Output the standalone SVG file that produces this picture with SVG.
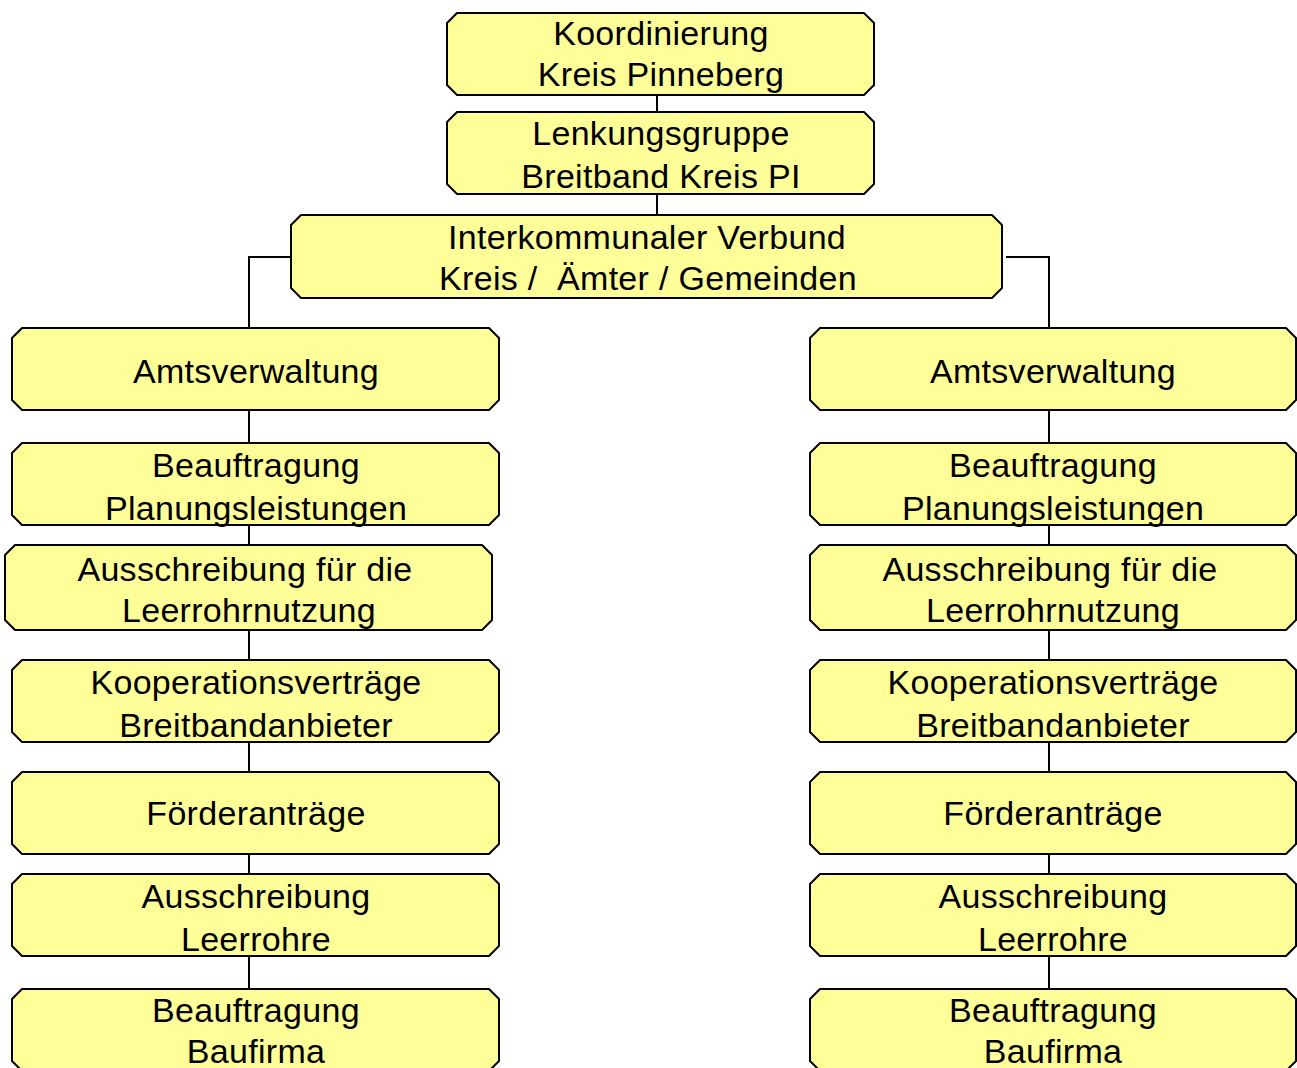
<svg xmlns="http://www.w3.org/2000/svg" width="1297" height="1068" viewBox="0 0 1297 1068">
<style>
.box{fill:#FFFF99;stroke:#000;stroke-width:2;stroke-linejoin:round}
.t{font-family:"Liberation Sans",Arial,sans-serif;font-size:34px;fill:#000;text-anchor:middle;letter-spacing:0.3px}
.c{fill:none;stroke:#000;stroke-width:2}
</style>
<rect width="1297" height="1068" fill="#fff"/>
<g id="connectors">
<path class="c" d="M657,95V112M657,194V215"/>
<path class="c" d="M291,257H249V328M249,410V443M249,525V545M249,630V660M249,742V772M249,854V874M249,956V989"/>
<path class="c" d="M1006,257H1049V328M1049,410V443M1049,525V545M1049,630V660M1049,742V772M1049,854V874M1049,956V989"/>
</g>
<g id="n1"><path class="box" d="M457,13H864L874,23V85L864,95H457L447,85V23Z"/><text class="t" x="661" y="45">Koordinierung</text><text class="t" x="661" y="86">Kreis Pinneberg</text></g>
<g id="n2"><path class="box" d="M457,112H864L874,122V184L864,194H457L447,184V122Z"/><text class="t" x="661" y="145">Lenkungsgruppe</text><text class="t" x="661" y="188">Breitband Kreis PI</text></g>
<g id="n3"><path class="box" d="M301,215H992L1002,225V288L992,298H301L291,288V225Z"/><text class="t" x="647" y="249">Interkommunaler Verbund</text><text class="t" x="648" y="290" xml:space="preserve" style="white-space:pre">Kreis /  Ämter / Gemeinden</text></g>

<g id="l1"><path class="box" d="M22,328H489L499,338V400L489,410H22L12,400V338Z"/><text class="t" x="256" y="383">Amtsverwaltung</text></g>
<g id="l2"><path class="box" d="M22,443H489L499,453V515L489,525H22L12,515V453Z"/><text class="t" x="256" y="477">Beauftragung</text><text class="t" x="256" y="520">Planungsleistungen</text></g>
<g id="l3"><path class="box" d="M15,545H482L492,555V620L482,630H15L5,620V555Z"/><text class="t" x="245" y="581">Ausschreibung für die</text><text class="t" x="249" y="622">Leerrohrnutzung</text></g>
<g id="l4"><path class="box" d="M22,660H489L499,670V732L489,742H22L12,732V670Z"/><text class="t" x="256" y="694">Kooperationsverträge</text><text class="t" x="256" y="737">Breitbandanbieter</text></g>
<g id="l5"><path class="box" d="M22,772H489L499,782V844L489,854H22L12,844V782Z"/><text class="t" x="256" y="825">Förderanträge</text></g>
<g id="l6"><path class="box" d="M22,874H489L499,884V946L489,956H22L12,946V884Z"/><text class="t" x="256" y="908">Ausschreibung</text><text class="t" x="256" y="951">Leerrohre</text></g>
<g id="l7"><path class="box" d="M22,989H489L499,999V1061L489,1071H22L12,1061V999Z"/><text class="t" x="256" y="1022">Beauftragung</text><text class="t" x="256" y="1063">Baufirma</text></g>

<g id="r1"><path class="box" d="M820,328H1286L1296,338V400L1286,410H820L810,400V338Z"/><text class="t" x="1053" y="383">Amtsverwaltung</text></g>
<g id="r2"><path class="box" d="M820,443H1286L1296,453V515L1286,525H820L810,515V453Z"/><text class="t" x="1053" y="477">Beauftragung</text><text class="t" x="1053" y="520">Planungsleistungen</text></g>
<g id="r3"><path class="box" d="M820,545H1286L1296,555V620L1286,630H820L810,620V555Z"/><text class="t" x="1050" y="581">Ausschreibung für die</text><text class="t" x="1053" y="622">Leerrohrnutzung</text></g>
<g id="r4"><path class="box" d="M820,660H1286L1296,670V732L1286,742H820L810,732V670Z"/><text class="t" x="1053" y="694">Kooperationsverträge</text><text class="t" x="1053" y="737">Breitbandanbieter</text></g>
<g id="r5"><path class="box" d="M820,772H1286L1296,782V844L1286,854H820L810,844V782Z"/><text class="t" x="1053" y="825">Förderanträge</text></g>
<g id="r6"><path class="box" d="M820,874H1286L1296,884V946L1286,956H820L810,946V884Z"/><text class="t" x="1053" y="908">Ausschreibung</text><text class="t" x="1053" y="951">Leerrohre</text></g>
<g id="r7"><path class="box" d="M820,989H1286L1296,999V1061L1286,1071H820L810,1061V999Z"/><text class="t" x="1053" y="1022">Beauftragung</text><text class="t" x="1053" y="1063">Baufirma</text></g>
</svg>
